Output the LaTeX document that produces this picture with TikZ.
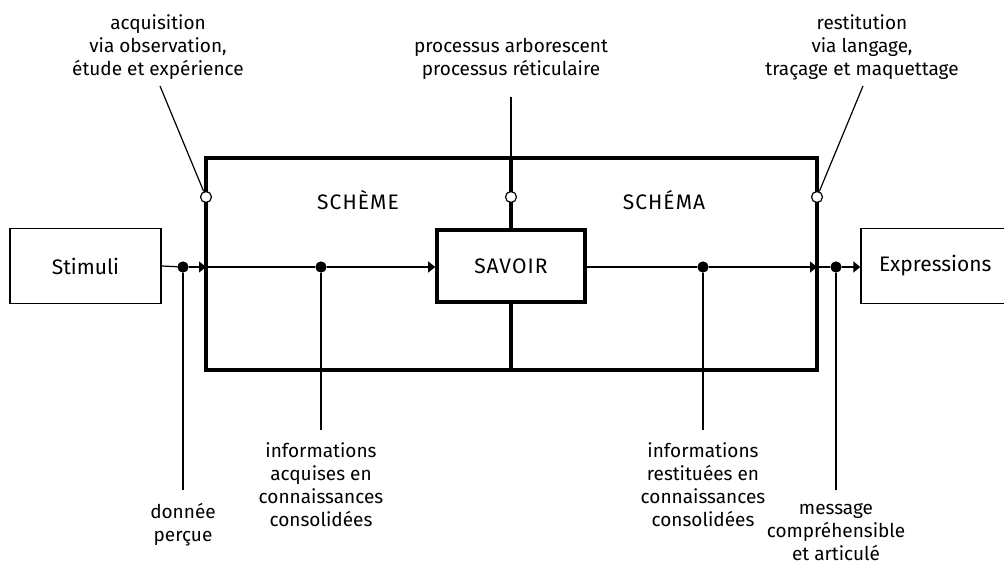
\documentclass[tikz,border=0pt]{standalone}
\usepackage{fontspec}
\setmainfont{Fira Sans}
\newfontfamily\spacedB[LetterSpace=5]{Fira Sans}
\usetikzlibrary{arrows.meta}
\begin{document}
\begin{tikzpicture}[x=1pt,y=-1pt,
  thinline/.style={line width=1.2pt},
  thickline/.style={line width=3.6pt},
  sidebox/.style={draw, line width=1.3pt, inner sep=0, font=\fontsize{21}{24}\selectfont},
  lbl/.style={align=center, font=\fontsize{19}{23}\selectfont, inner sep=0},
  title/.style={inner sep=0, font=\spacedB\fontsize{21}{24}\selectfont},
  dot/.style={circle, fill, inner sep=0, minimum size=11},
  ring/.style={circle, draw, fill=white, line width=1.2pt, inner sep=0, minimum size=11},
  arr/.style={thinline, -{Triangle[length=7,width=11]}}
]
\useasboundingbox (0,0) rectangle (1004,567);
\begin{scope}
\clip (0,0) rectangle (1004,567);
% side boxes
\node[sidebox, minimum width=151, minimum height=75] (stim) at (85.5,266) {Stimuli};
\node[sidebox, minimum width=160, minimum height=75, text width=150, align=left] (expr) at (941,266) {\hspace*{13pt}Expressions};
\end{scope}
% corners of the big box
\coordinate (tl) at (206,158);
\coordinate (tr) at (817,158);
\coordinate (bl) at (206,370);
\coordinate (br) at (817,370);
\coordinate (mt) at (511,158);
\coordinate (mb) at (511,370);
\coordinate (mtop) at (511,97);
\coordinate (inL) at (206,267);
\coordinate (outR) at (817,267);
% dots on the main line
\node[dot] (d1) at (183,267) {};
\node[dot] (d2) at (321,267) {};
\node[dot] (d3) at (703,267) {};
\node[dot] (d4) at (836,267) {};
% main thin lines
\draw[thinline] (stim.east) -- (d1);
\draw[arr] (d1) -- (inL);
\draw[thinline] (inL) -- (d2);
% big box
\draw[thickline] (tl) rectangle (br);
\draw[thickline] (mt) -- (mb);
\draw[thinline] (mtop) -- (mt);
% SAVOIR
\node[draw, fill=white, line width=3.6pt, minimum width=148, minimum height=72, inner sep=0,
      font=\spacedB\fontsize{21}{24}\selectfont] (savoir) at (511,266) {SAVOIR};
\draw[arr] (d2) -- (savoir.west |- d2);
\draw[thinline] (savoir.east |- d3) -- (d3);
\draw[arr] (d3) -- (outR);
\draw[thinline] (outR) -- (d4);
\draw[arr] (d4) -- (expr.west |- d4);
% redraw dots on top
\fill (d1) circle (5.5);
\fill (d2) circle (5.5);
\fill (d3) circle (5.5);
\fill (d4) circle (5.5);
% rings
\node[ring] (r1) at (206,197) {};
\node[ring] (r2) at (511,197) {};
\node[ring] (r3) at (817,197) {};
% section titles
\node[title] (scheme) at (358,200) {SCHÈME};
\node[title] (schema) at (664,200) {SCHÉMA};
% top labels
\node[lbl] (acq) at (158,47) {acquisition\\via observation,\\étude et expérience};
\node[lbl] (proc) at (511,59) {processus arborescent\\processus réticulaire};
\node[lbl] (rest) at (862,47) {restitution\\via langage,\\traçage et maquettage};
\coordinate (acqL) at (160,86);
\coordinate (restL) at (863,86);
\draw[thinline] (acqL) -- (r1);
\draw[thinline] (restL) -- (r3);
% bottom labels
\coordinate (e1) at (183,490);
\coordinate (e2) at (321,430);
\coordinate (e3) at (703,430);
\coordinate (e4) at (836,490);
\draw[thinline] (d1) -- (e1);
\draw[thinline] (d2) -- (e2);
\draw[thinline] (d3) -- (e3);
\draw[thinline] (d4) -- (e4);
\node[lbl] (donnee) at (183,525) {donnée\\perçue};
\node[lbl] (infoA) at (321,485) {informations\\acquises en\\connaissances\\consolidées};
\node[lbl] (infoR) at (703,485) {informations\\restituées en\\connaissances\\consolidées};
\node[lbl] (msg) at (836,532) {message\\compréhensible\\et articulé};
\end{tikzpicture}
\end{document}
